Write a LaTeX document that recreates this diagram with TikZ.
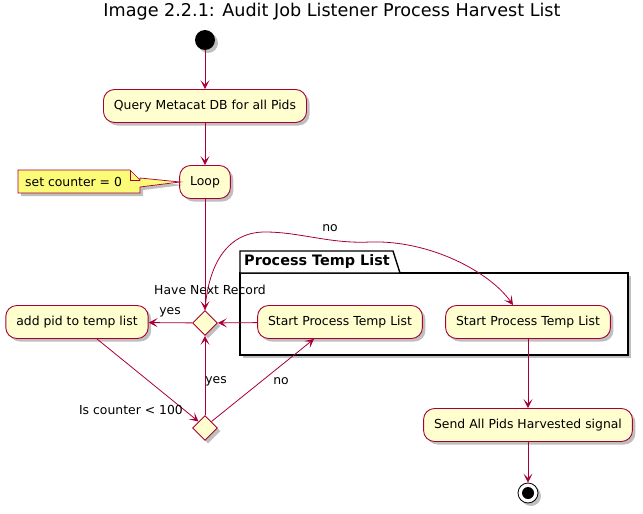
\documentclass[tikz,border=0pt]{standalone}
\usepackage{fontspec}
\setmainfont{DejaVu Sans}
\usetikzlibrary{shapes.geometric,arrows.meta,shadows}
\definecolor{umlred}{HTML}{A80036}
\definecolor{umlfill}{HTML}{FEFECE}
\definecolor{notefill}{HTML}{FBFB77}
\tikzset{
  shad/.style={drop shadow={shadow xshift=3pt,shadow yshift=-3pt,fill=black,opacity=0.25}},
  act/.style={draw=umlred,fill=umlfill,rounded corners=11pt,line width=0.9pt,minimum height=33pt,inner xsep=10.5pt,font=\fontsize{12.4}{14}\selectfont,shad},
  dec/.style={diamond,draw=umlred,fill=umlfill,line width=0.9pt,minimum width=25pt,minimum height=25pt,inner sep=0pt,shad},
  flow/.style={draw=umlred,line width=0.8pt,-{Stealth[length=9pt,width=9pt,inset=4.5pt]}},
  lbl/.style={font=\fontsize{12.4}{14}\selectfont,inner sep=1pt},
}
\begin{document}
\begin{tikzpicture}[x=1pt,y=-1pt]
\useasboundingbox (0,0) rectangle (643,514);
\node[font=\fontsize{17.6}{20}\selectfont] (title) at (332,12) {Image 2.2.1: Audit Job Listener Process Harvest List};
% package frame
\draw[line width=1.4pt,fill=white,shad] (240,273) rectangle (628,355);
\draw[line width=1.4pt,fill=white] (240,273) -- (240,251) -- (393,251) -- (400,273) -- cycle;
\node[font=\bfseries\fontsize{14.4}{17}\selectfont,anchor=west,inner sep=0pt] (pkg) at (244,262) {Process Temp List};
% start
\node[circle,fill=black,minimum size=20pt,inner sep=0pt,shad] (start) at (205,40) {};
\node[act] (query) at (205,106) {Query Metacat DB for all Pids};
\node[act] (loop) at (205,182) {Loop};
% note
\draw[draw=umlred,fill=notefill,line width=0.7pt,shad] (18,170) -- (130,170) -- (140,180) -- (140,178) -- (180,182) -- (140,187) -- (140,193) -- (18,193) -- cycle;
\draw[draw=umlred,line width=0.7pt] (130,170) -- (130,180) -- (140,180);
\node[lbl,anchor=west] (note) at (24,182) {set counter = 0};
\node[dec] (d1) at (205,323) {};
\node[dec] (d2) at (205,428) {};
\node[act] (add) at (77,322) {add pid to temp list};
\node[act] (sp1) at (340,322) {Start Process Temp List};
\node[act] (sp2) at (528,322) {Start Process Temp List};
\node[act] (send) at (528,425) {Send All Pids Harvested signal};
\node[circle,draw=black,fill=white,minimum size=20pt,inner sep=0pt,line width=0.8pt,shad] (end) at (528,493) {};
\node[circle,fill=black,minimum size=12pt,inner sep=0pt] (endin) at (end) {};
% flows
\draw[flow] (start) -- (query);
\draw[flow] (query) -- (loop);
\draw[flow] (loop) -- (d1);
\draw[flow] (sp1) -- (d1);
\draw[flow] (d1) -- (add);
\draw[flow] (add.south) ++(20,0) coordinate (addout) (addout) -- (d2.north west);
\draw[flow] (d2) -- (d1);
\draw[flow] (d2.north east) -- ([xshift=-26pt]sp1.south);
\draw[flow] (d1.north) .. controls (208,268) and (225,232) .. (265,232) .. controls (300,232) and (330,244) .. (370,242) .. controls (430,240) and (490,272) .. ([xshift=-15pt]sp2.north);
\draw[flow] (sp2) -- (send);
\draw[flow] (send) -- (end);
% labels
\node[lbl] (l1) at (210,290) {Have Next Record};
\node[lbl] (l2) at (170,312) {yes};
\node[lbl] (l3) at (216,381) {yes};
\node[lbl] (l4) at (281,381) {no};
\node[lbl,anchor=east] (l5) at (184,410) {Is counter < 100};
\node[lbl] (l6) at (330,228) {no};
\end{tikzpicture}
\end{document}
